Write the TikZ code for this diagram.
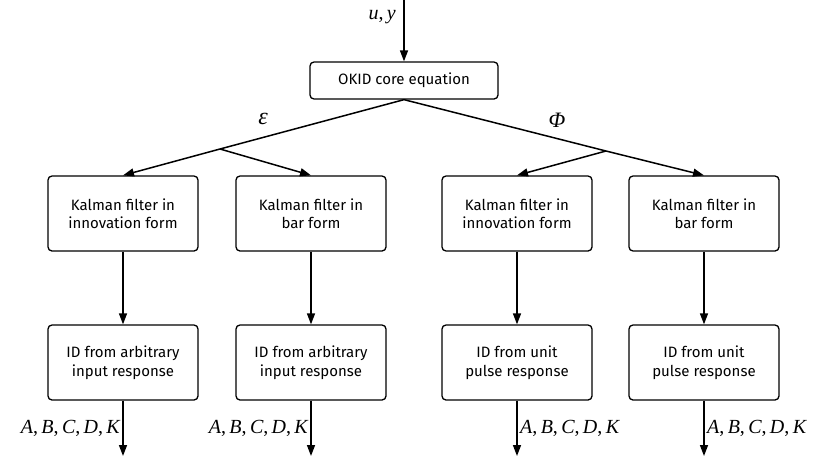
\documentclass[tikz,border=0pt]{standalone}
\usepackage{amsmath}
\usepackage{fontspec}
\setsansfont{Fira Sans}
\newfontfamily\tms{Liberation Serif}
\usetikzlibrary{arrows.meta}
\newcommand{\mylbl}{{\tms\itshape A\upshape,\,\itshape B\upshape,\,\itshape C\upshape,\,\itshape D\upshape,\,\itshape K}}
\begin{document}
\begin{tikzpicture}[x=1pt,y=-1pt,
  blk/.style={draw,line width=1.3pt,rounded corners=4pt,align=center,font=\sffamily\fontsize{15}{18.5}\selectfont,inner sep=0pt},
  con/.style={line width=1.5pt},
  arr/.style={line width=1.5pt,-{Triangle[length=11pt,width=8pt]}},
  lab/.style={font=\fontsize{20}{22}\selectfont,inner sep=1pt}]
\useasboundingbox (0,0) rectangle (815,464);
\node[blk,minimum width=188pt,minimum height=37pt] (okid) at (404,80.5) {OKID core equation};
\coordinate (in) at (404,0);
\draw[arr] (in) -- (okid.north);
\node[lab,anchor=east] (uy) at (397,17) {\tms\itshape u\upshape,\,\itshape y};
\foreach \n/\x in {k1/123,k2/311,k3/517,k4/704}{
  \node[blk,minimum width=150pt,minimum height=75pt] (\n) at (\x,213.5) {};
}
\node[blk,draw=none] at (k1) {Kalman filter in\\innovation form};
\node[blk,draw=none] at (k2) {Kalman filter in\\bar form};
\node[blk,draw=none] at (k3) {Kalman filter in\\innovation form};
\node[blk,draw=none] at (k4) {Kalman filter in\\bar form};
\foreach \n/\x in {i1/123,i2/311,i3/517,i4/704}{
  \node[blk,minimum width=150pt,minimum height=75pt] (\n) at (\x,362.5) {};
}
\node[blk,draw=none] at (i1) {ID from arbitrary\\input response};
\node[blk,draw=none] at (i2) {ID from arbitrary\\input response};
\node[blk,draw=none] at (i3) {ID from unit\\pulse response};
\node[blk,draw=none] at (i4) {ID from unit\\pulse response};
\coordinate (jl) at (220,149);
\coordinate (jr) at (606,151);
\draw[con] (jl) -- (okid.south) -- (jr);
\draw[arr] (jl) -- (k1.north);
\draw[arr] (jl) -- (k2.north);
\draw[arr] (jr) -- (k3.north);
\draw[arr] (jr) -- (k4.north);
\node[lab,font=\tms\itshape\fontsize{24}{26}\selectfont] (eps) at (263,119) {ε};
\node[lab,font=\tms\itshape\fontsize{22}{24}\selectfont] (phi) at (557,120) {Φ};
\foreach \a/\b in {k1/i1,k2/i2,k3/i3,k4/i4}{\draw[arr] (\a.south) -- (\b.north);}
\foreach \n/\x in {o1/123,o2/311,o3/517,o4/704}{\coordinate (\n) at (\x,456);}
\foreach \a/\b in {i1/o1,i2/o2,i3/o3,i4/o4}{\draw[arr] (\a.south) -- (\b);}
\node[lab,anchor=east] (l1) at (121,428) {\mylbl};
\node[lab,anchor=east] (l2) at (309,428) {\mylbl};
\node[lab,anchor=west] (l3) at (519,428) {\mylbl};
\node[lab,anchor=west] (l4) at (706,428) {\mylbl};
\end{tikzpicture}
\end{document}
